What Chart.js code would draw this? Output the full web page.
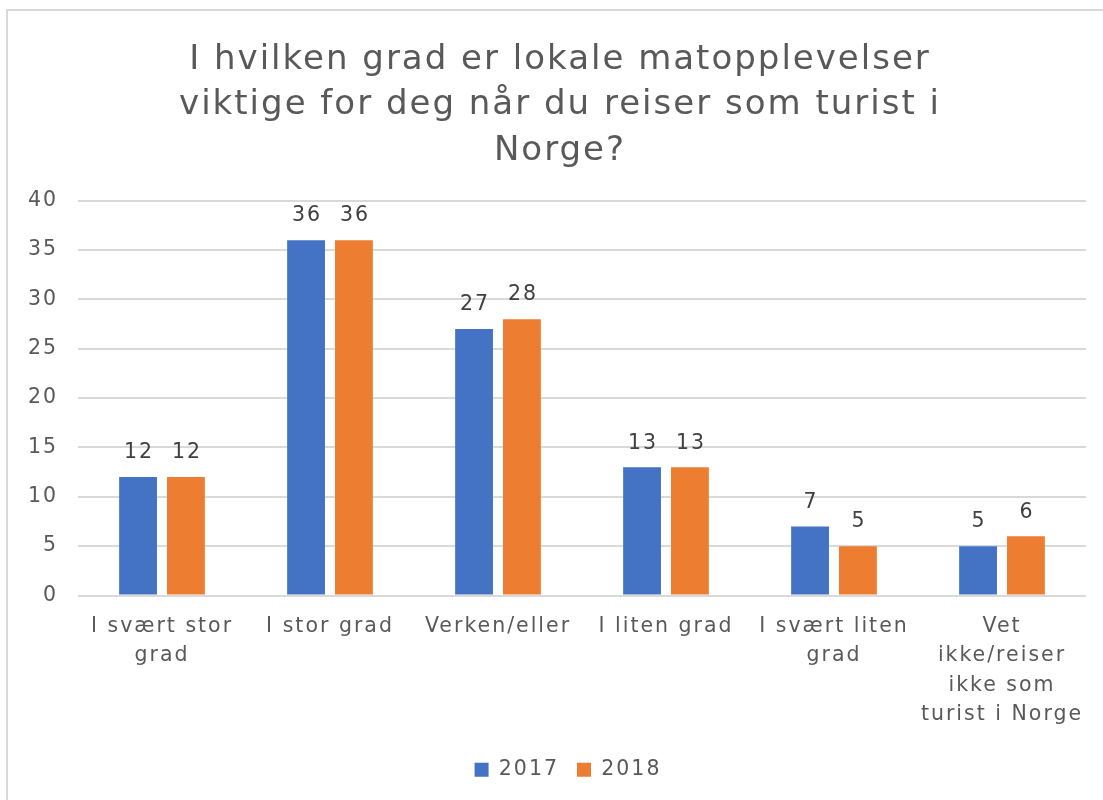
<!DOCTYPE html>
<html>
<head>
<meta charset="utf-8">
<script src="https://cdn.jsdelivr.net/npm/chart.js@4.4.1/dist/chart.umd.min.js"></script>
<style>
html,body{margin:0;padding:0;background:#fff;}
#wrap{position:relative;width:1103px;height:800px;}
</style>
</head>
<body>
<div id="wrap"><canvas id="c" width="1103" height="800"></canvas></div>
<script>
const titleLines = ["I hvilken grad er lokale matopplevelser", "viktige for deg når du reiser som turist i", "Norge?"];
const categories = [
  ["I svært stor", "grad"],
  "I stor grad",
  "Verken/eller",
  "I liten grad",
  ["I svært liten", "grad"],
  ["Vet", "ikke/reiser", "ikke som", "turist i Norge"]
];
const seriesNames = ["2017", "2018"];
const values2017 = [12, 36, 27, 13, 7, 5];
const values2018 = [12, 36, 28, 13, 5, 6];
const yTicks = [0, 5, 10, 15, 20, 25, 30, 35, 40];

const FONT = "'DejaVu Sans', Verdana, sans-serif";
const TXT = '#595959';
const SPACING = '2px';

const spacingPlugin = {
  id: 'spacing',
  beforeUpdate(chart) { chart.ctx.letterSpacing = SPACING; },
  beforeLayout(chart) { chart.ctx.letterSpacing = SPACING; },
  afterLayout(chart) {
    if (chart.titleBlock) { chart.titleBlock.left += 17; chart.titleBlock.right += 17; }
    if (chart.legend) { chart.legend.left += 25; chart.legend.right += 25; }
  },
  beforeDraw(chart) { chart.ctx.letterSpacing = SPACING; }
};

const borderPlugin = {
  id: 'outerBorder',
  beforeDraw(chart) {
    const ctx = chart.ctx;
    ctx.save();
    ctx.fillStyle = '#fff';
    ctx.fillRect(0, 0, chart.width, chart.height);
    ctx.strokeStyle = '#D9D9D9';
    ctx.lineWidth = 2;
    ctx.strokeRect(7, 10, 1200, 900);
    ctx.restore();
  }
};

const valueLabels = {
  id: 'valueLabels',
  afterDatasetsDraw(chart) {
    const ctx = chart.ctx;
    ctx.save();
    ctx.font = '20.5px ' + FONT;
    ctx.fillStyle = '#404040';
    ctx.textAlign = 'center';
    ctx.textBaseline = 'middle';
    chart.data.datasets.forEach((ds, i) => {
      const meta = chart.getDatasetMeta(i);
      meta.data.forEach((bar, j) => {
        ctx.fillText(String(ds.data[j]), bar.x + 1, bar.y - 24);
      });
    });
    ctx.restore();
  }
};

new Chart(document.getElementById('c'), {
  type: 'bar',
  data: {
    labels: categories,
    datasets: [
      { label: seriesNames[0], data: values2017, backgroundColor: '#4472C4' },
      { label: seriesNames[1], data: values2018, backgroundColor: '#ED7D31' }
    ]
  },
  options: {
    responsive: false,
    animation: false,
    devicePixelRatio: 1,
    layout: { padding: { left: 0, right: 17, top: 13, bottom: 10 } },
    datasets: { bar: { categoryPercentage: 0.57, barPercentage: 0.79 } },
    plugins: {
      title: {
        display: true,
        text: titleLines,
        color: TXT,
        font: { family: FONT, size: 34, weight: 'normal', lineHeight: 1.34 },
        padding: { top: 24, bottom: 27 }
      },
      legend: {
        position: 'bottom',
        labels: {
          color: TXT,
          font: { family: FONT, size: 20.5 },
          boxWidth: 14, boxHeight: 14, padding: 18
        }
      },
      tooltip: { enabled: false }
    },
    scales: {
      x: {
        grid: { display: false, drawTicks: false },
        border: { display: false },
        ticks: {
          color: TXT,
          font: { family: FONT, size: 20.5, lineHeight: 1.42 },
          padding: 17,
          maxRotation: 0, autoSkip: false
        },
        afterFit(scale) { scale.height = 146; }
      },
      y: {
        min: 0, max: 40,
        afterBuildTicks(scale) { scale.ticks = yTicks.map(v => ({ value: v })); },
        grid: { color: '#D9D9D9', lineWidth: 2, drawTicks: false },
        border: { display: false },
        ticks: {
          color: TXT,
          font: { family: FONT, size: 20.5 },
          padding: 20
        },
        afterFit(scale) { scale.width = 78; }
      }
    }
  },
  plugins: [spacingPlugin, borderPlugin, valueLabels]
});
</script>
</body>
</html>
